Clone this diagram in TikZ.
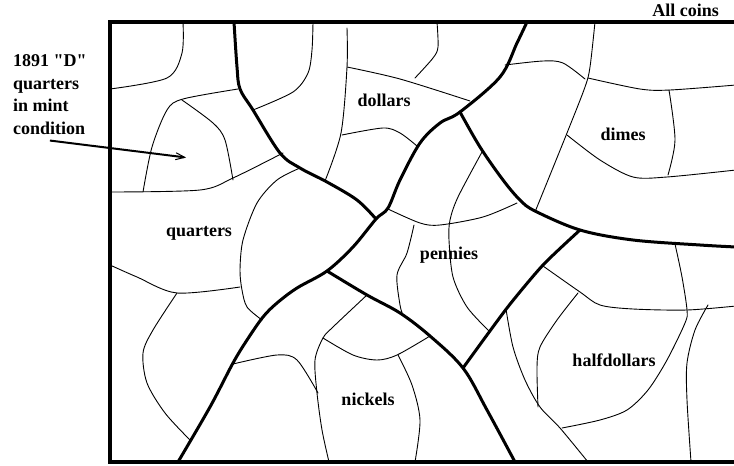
\documentclass[tikz,border=0pt]{standalone}
\usepackage{fontspec}
\setmainfont{Liberation Serif}[Ligatures=TeXOff]
\usetikzlibrary{arrows.meta}

\begin{document}
\begin{tikzpicture}[
  x=1pt, y=-1pt,
  coin/.style={font=\bfseries\fontsize{18}{22.5}\selectfont, inner sep=0pt, anchor=base},
  rim/.style={line width=3pt, line join=round, line cap=round},
  seam/.style={line width=0.9pt, line cap=round},
  border/.style={line width=3.8pt},
  pointer/.style={line width=2pt, -{Straight Barb[length=9pt,width=7pt,line width=1pt]}}
]
  \useasboundingbox (0,0) rectangle (734,466);

  % frame, open to the right
  \draw[border] (736,22) -- (110,22) -- (110,462) -- (736,462);
  \node[coin, anchor=base east] (all) at (719,16.7) {All coins};

  % thick borders between the coin kinds
  \coordinate (j1) at (376,219);
  \coordinate (j2) at (460,112);
  \coordinate (j3) at (327,271);
  \coordinate (j4) at (580,230);
  \coordinate (j5) at (463,368);
  \draw[rim] plot[smooth, tension=0.55] coordinates {(234,22) (237,67) (240,89) (253,110)
    (280,153) (300,168) (327,182) (357,200) (j1)};
  \draw[rim] plot[smooth, tension=0.55] coordinates {(527,22) (517,43) (500,77) (j2)
    (440,123) (420,143) (400,180) (388,208) (j1) (353,247) (j3) (297,288) (277,303)
    (263,317) (247,340) (233,363) (210,407) (178,462)};
  \draw[rim] plot[smooth, tension=0.55] coordinates {(j2) (480,147) (503,180) (520,200)
    (535,211) (j4) (633,240) (700,245) (736,247)};
  \draw[rim] plot[smooth, tension=0.4] coordinates {(j4) (543,265) (507,308) (j5)};
  \draw[rim] plot[smooth, tension=0.55] coordinates {(j3) (367,295) (400,313) (430,336)
    (j5) (487,410) (515,462)};

  % thin borders inside each kind
  \draw[seam] plot[smooth] coordinates {(183,22) (182,53) (167,78) (110,89)};
  \draw[seam] plot[smooth] coordinates {(238,89) (183,99) (167,110) (152,147) (143,192)};
  \draw[seam] plot[smooth] coordinates {(182,100) (213,123) (225,140) (233,180)};
  \draw[seam] plot[smooth] coordinates {(110,192) (200,190) (233,178) (283,153)};
  \draw[seam] plot[smooth] coordinates {(253,110) (293,92) (308,73) (312,50) (313,22)};
  \draw[seam] plot[smooth] coordinates {(347,28) (347,67) (341,133) (325,181)};
  \draw[seam] plot[smooth] coordinates {(347,67) (400,79) (470,101)};
  \draw[seam] plot[smooth] coordinates {(437,22) (438,47) (433,58) (415,78)};
  \draw[seam] plot[smooth] coordinates {(342,135) (383,128) (400,133) (417,146)};
  \draw[seam] plot[smooth] coordinates {(505,65) (543,61) (563,63) (585,79)};
  \draw[seam] plot[smooth] coordinates {(595,22) (590,67) (585,87) (567,133) (535,212)};
  \draw[seam] plot[smooth] coordinates {(588,78) (640,89) (670,90) (736,85)};
  \draw[seam] plot[smooth] coordinates {(669,90) (675,140) (668,175)};
  \draw[seam] plot[smooth] coordinates {(567,135) (600,160) (633,177) (667,177) (736,170)};
  \draw[seam] plot[smooth] coordinates {(482,152) (458,197) (450,220) (449,240) (453,277)
    (467,307) (489,331)};
  \draw[seam] plot[smooth] coordinates {(388,209) (420,223) (440,225) (483,217) (517,203)};
  \draw[seam] plot[smooth] coordinates {(414,225) (407,253) (397,275) (400,305) (403,315)};
  \draw[seam] plot[smooth] coordinates {(367,295) (333,327) (323,338) (315,360) (317,393)
    (322,430) (329,462)};
  \draw[seam] plot[smooth] coordinates {(323,338) (353,355) (377,360) (397,355) (430,336)};
  \draw[seam] plot[smooth] coordinates {(398,355) (412,385) (420,420) (415,462)};
  \draw[seam] plot[smooth] coordinates {(233,364) (277,355) (297,360) (318,393)};
  \draw[seam] plot[smooth] coordinates {(110,265) (137,277) (177,293) (240,287)};
  \draw[seam] plot[smooth] coordinates {(300,168) (277,180) (257,203) (243,240) (240,270)
    (242,290) (247,307) (262,320)};
  \draw[seam] plot[smooth] coordinates {(177,293) (153,330) (143,353) (147,383) (165,413)
    (190,440)};
  \draw[seam] plot[smooth] coordinates {(543,266) (580,292) (600,305) (633,309) (687,310)
    (736,306)};
  \draw[seam] plot[smooth] coordinates {(675,244) (682,277) (687,310) (685,323) (667,360)
    (648,390) (627,410) (600,420) (562,428)};
  \draw[seam] plot[smooth] coordinates {(578,293) (557,320) (540,347) (537,367) (538,407)};
  \draw[seam] plot[smooth] coordinates {(506,309) (513,347) (525,380) (540,407) (560,428)
    (588,462)};
  \draw[seam] plot[smooth] coordinates {(708,305) (695,330) (687,363) (687,400) (691,462)};

  % coin names
  \node[coin] (dollars) at (384,106.7) {dollars};
  \node[coin] (dimes) at (623,140.7) {dimes};
  \node[coin] (quarters) at (199,236.7) {quarters};
  \node[coin] (pennies) at (449,259) {pennies};
  \node[coin] (nickels) at (368,405.7) {nickels};
  \node[coin] (halfdollars) at (614,366.7) {halfdollars};

  % the note and its arrow
  \node[coin, anchor=north west, align=left] (note) at (13,54.5)
    {1891 "D"\\quarters\\in mint\\condition};
  \coordinate (mint) at (186,157.5);
  \draw[pointer] ([yshift=-6pt]note.south) -- (mint);
\end{tikzpicture}
\end{document}
